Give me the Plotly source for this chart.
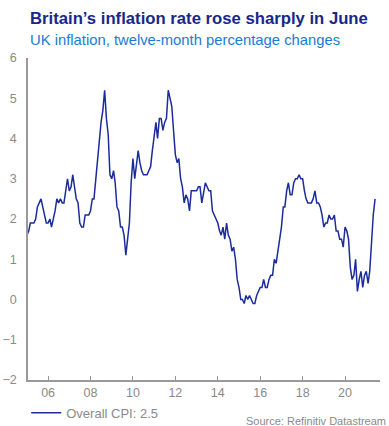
import plotly.graph_objects as go
import pandas as pd

start_month = "2005-01-01"
cpi = [
    1.6, 1.7, 1.9, 1.9, 1.9, 2.0, 2.3, 2.4, 2.5, 2.3, 2.1, 1.9,   # 2005
    1.9, 2.0, 1.8, 2.0, 2.2, 2.5, 2.4, 2.5, 2.4, 2.4, 2.7, 3.0,   # 2006
    2.7, 2.8, 3.1, 2.8, 2.5, 2.4, 1.9, 1.8, 1.8, 2.1, 2.1, 2.1,   # 2007
    2.2, 2.5, 2.5, 3.0, 3.3, 3.8, 4.4, 4.7, 5.2, 4.5, 4.1, 3.1,   # 2008
    3.0, 3.2, 2.9, 2.3, 2.2, 1.8, 1.8, 1.6, 1.1, 1.5, 1.9, 2.9,   # 2009
    3.5, 3.0, 3.4, 3.7, 3.4, 3.2, 3.1, 3.1, 3.1, 3.2, 3.3, 3.7,   # 2010
    4.0, 4.4, 4.0, 4.5, 4.5, 4.2, 4.4, 4.5, 5.2, 5.0, 4.8, 4.2,   # 2011
    3.6, 3.4, 3.5, 3.0, 2.8, 2.4, 2.6, 2.5, 2.2, 2.7, 2.7, 2.7,   # 2012
    2.7, 2.8, 2.8, 2.4, 2.7, 2.9, 2.8, 2.7, 2.7, 2.2, 2.1, 2.0,   # 2013
    1.9, 1.7, 1.6, 1.8, 1.5, 1.9, 1.6, 1.5, 1.2, 1.3, 1.0, 0.5,   # 2014
    0.3, 0.0, 0.0, -0.1, 0.1, 0.0, 0.1, 0.0, -0.1, -0.1, 0.1, 0.2,  # 2015
    0.3, 0.3, 0.5, 0.3, 0.3, 0.5, 0.6, 0.6, 1.0, 0.9, 1.2, 1.6,   # 2016
    1.8, 2.3, 2.3, 2.7, 2.9, 2.6, 2.6, 2.9, 3.0, 3.0, 3.1, 3.0,   # 2017
    3.0, 2.7, 2.5, 2.4, 2.4, 2.4, 2.5, 2.7, 2.4, 2.4, 2.3, 2.1,   # 2018
    1.8, 1.9, 1.9, 2.1, 2.0, 2.0, 2.1, 1.7, 1.7, 1.5, 1.5, 1.3,   # 2019
    1.8, 1.7, 1.5, 0.8, 0.5, 0.6, 1.0, 0.2, 0.5, 0.7, 0.3, 0.6,   # 2020
    0.7, 0.4, 0.7, 1.5, 2.1, 2.5,                                  # 2021
]
dates = pd.date_range(start_month, periods=len(cpi), freq="MS")

tick_vals = ["2006-01-01", "2008-01-01", "2010-01-01", "2012-01-01",
             "2014-01-01", "2016-01-01", "2018-01-01", "2020-01-01"]
tick_text = ["06", "08", "10", "12", "14", "16", "18", "20"]
y_ticks = [-2, -1, 0, 1, 2, 3, 4, 5, 6]

title = "Britain’s inflation rate rose sharply in June"
subtitle = "UK inflation, twelve-month percentage changes"
source = "Source: Refinitiv Datastream"
series_name = f"Overall CPI: {cpi[-1]}"

fig = go.Figure()
fig.add_trace(go.Scatter(
    x=dates, y=cpi, mode="lines", name=series_name,
    line=dict(color="#1c2c9a", width=1.5),
))

grey = "#8a8a8a"
fig.update_layout(
    width=389, height=426,
    margin=dict(l=28, r=9, t=58, b=46, autoexpand=False),
    paper_bgcolor="white", plot_bgcolor="white",
    font=dict(family="Liberation Sans, Arial, sans-serif", color=grey, size=12),
    showlegend=True,
    legend=dict(orientation="h", x=-0.005, y=-0.055, xanchor="left", yanchor="top",
                font=dict(size=13, color=grey), bgcolor="rgba(0,0,0,0)",
                itemwidth=30),
    xaxis=dict(
        range=["2005-01-20", "2021-08-25"],
        tickvals=tick_vals, ticktext=tick_text,
        showgrid=False, zeroline=False,
        showline=True, linecolor="#999999", linewidth=1.5,
        ticks="inside", ticklen=4, tickcolor="#999999",
        tickfont=dict(size=12.5, color=grey),
    ),
    yaxis=dict(
        range=[-2, 6], tickvals=y_ticks,
        showgrid=False, zeroline=False,
        showline=True, linecolor="#999999", linewidth=1.5,
        ticks="", ticklabelstandoff=7,
        tickfont=dict(size=12.5, color=grey),
    ),
    annotations=[
        dict(text=f"<b>{title}</b>", xref="paper", yref="paper",
             x=0.0, y=1.0, yshift=40, xanchor="left", yanchor="middle", showarrow=False,
             font=dict(size=16.7, color="#17288a")),
        dict(text=subtitle, xref="paper", yref="paper",
             x=0.0, y=1.0, yshift=18, xanchor="left", yanchor="middle", showarrow=False,
             font=dict(size=14.8, color="#1a7bd6")),
        dict(text=source, xref="paper", yref="paper",
             x=1.023, y=0, yshift=-41, xanchor="right", yanchor="middle", showarrow=False,
             font=dict(size=11, color=grey)),
    ],
)
fig.update_xaxes(automargin=False)
fig.update_yaxes(automargin=False)
fig.write_html("out.html")
